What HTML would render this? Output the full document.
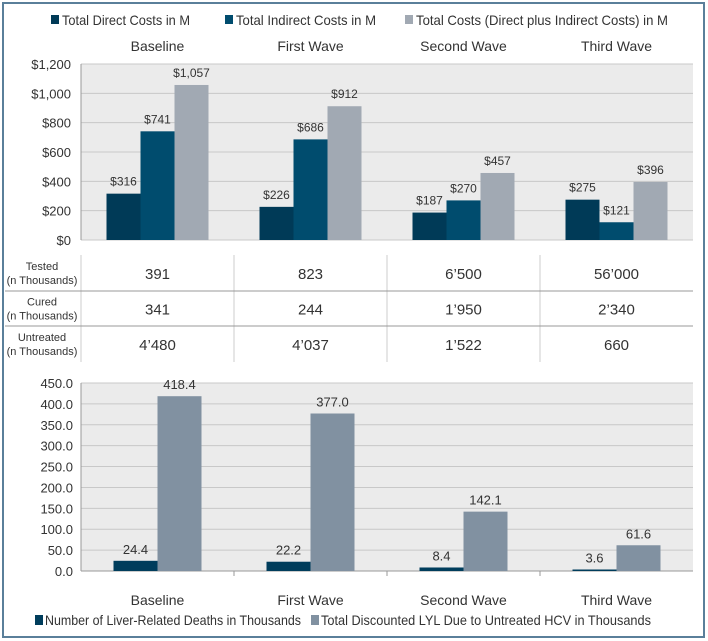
<!DOCTYPE html>
<html><head><meta charset="utf-8"><style>
body{margin:0;background:#fff;}
svg{display:block;font-family:"Liberation Sans",sans-serif;}
</style></head><body>
<svg id="c" width="708" height="641" xmlns="http://www.w3.org/2000/svg">
<rect x="3" y="3" width="701" height="634" fill="#fff" stroke="#5a7f9a" stroke-width="2"/>
</svg>
<script>
const categories=["Baseline","First Wave","Second Wave","Third Wave"];
const bottomCategories=["Baseline","First  Wave","Second Wave","Third Wave"];
const directCosts=[316,226,187,275];
const indirectCosts=[741,686,270,121];
const totalCosts=[1057,912,457,396];
const costTicks=[0,200,400,600,800,1000,1200];
const costTickLabels=["$0","$200","$400","$600","$800","$1,000","$1,200"];
const deaths=[24.4,22.2,8.4,3.6];
const lyl=[418.4,377.0,142.1,61.6];
const lylTicks=[0,50,100,150,200,250,300,350,400,450];
const rowLabels=[["Tested","(n Thousands)"],["Cured","(n Thousands)"],["Untreated","(n Thousands)"]];
const tableValues=[["391","823","6\u2019500","56\u2019000"],["341","244","1\u2019950","2\u2019340"],["4\u2019480","4\u2019037","1\u2019522","660"]];

const svg=document.getElementById('c');
const NS="http://www.w3.org/2000/svg";
function mk(t,a,txt){const e=document.createElementNS(NS,t);for(const k in a)e.setAttribute(k,a[k]);if(txt!==undefined)e.textContent=txt;svg.appendChild(e);return e;}
const L=81,R=693,cw=(R-L)/4;
function fmt(v){return "$"+v.toLocaleString("en-US");}

// top chart
const tTop=64,tBot=240,tMax=1200;
const ty=v=>tBot-(v/tMax)*(tBot-tTop);
let e=mk('rect',{x:L,y:tTop,width:R-L,height:tBot-tTop,fill:"#ebebeb"});

costTicks.forEach((v,i)=>{
  e=mk('line',{x1:L,x2:R,y1:ty(v),y2:ty(v),stroke:"#c8c8c8"});
  
  e=mk('text',{x:L-10,y:ty(v)+5,'text-anchor':'end','font-size':13,fill:'#333'},costTickLabels[i]);
  
});
e=mk('line',{x1:L,x2:L,y1:tTop,y2:tBot,stroke:"#999"});

const tseries=[[directCosts,"#003a57"],[indirectCosts,"#004c6e"],[totalCosts,"#a1a9b3"]];
const bw=34;
categories.forEach((c,i)=>{
  const cx=L+cw*i+cw/2;
  e=mk('text',{x:cx,y:51,'text-anchor':'middle','font-size':14,fill:'#333'},c);
  
  tseries.forEach((s,j)=>{
    const v=s[0][i],x=cx-bw*1.5+bw*j;
    e=mk('rect',{x:x,y:ty(v),width:bw,height:tBot-ty(v),fill:s[1]});
    
    e=mk('text',{x:x+bw/2,y:ty(v)-8,'text-anchor':'middle','font-size':12,fill:'#333'},fmt(v));
    
  });
});
// top legend
const tleg=[["Total Direct Costs in M","#003a57",51,128],["Total Indirect Costs in M","#004c6e",225,140],["Total Costs (Direct plus Indirect Costs) in M","#a1a9b3",405,252]];
tleg.forEach(l=>{
  e=mk('rect',{x:l[2],y:15,width:8,height:9,fill:l[1]});
  
  e=mk('text',{x:l[2]+11,y:25,'font-size':14,fill:'#333',textLength:l[3],lengthAdjust:'spacingAndGlyphs'},l[0]);
  
});

// table
const rowY=[255,291,326,362];
for(let k=1;k<4;k++){const x=L+cw*k;e=mk('line',{x1:x,x2:x,y1:rowY[0],y2:rowY[3],stroke:'#ccc'});}
e=mk('line',{x1:L,x2:L,y1:rowY[0],y2:rowY[3],stroke:'#ccc'});
[1,2].forEach(r=>{e=mk('line',{x1:5,x2:R,y1:rowY[r],y2:rowY[r],stroke:'#999'});});
rowLabels.forEach((rl,r)=>{
  const m=(rowY[r]+rowY[r+1])/2;
  e=mk('text',{x:42,y:m-3,'text-anchor':'middle','font-size':11,fill:'#333'},rl[0]);
  
  e=mk('text',{x:42,y:m+11,'text-anchor':'middle','font-size':11,fill:'#333'},rl[1]);
  
  tableValues[r].forEach((v,i)=>{
    e=mk('text',{x:L+cw*i+cw/2,y:m+6,'text-anchor':'middle','font-size':15,fill:'#333'},v);
    
  });
});

// bottom chart
const bTop=383,bBot=571,bMax=450;
const by=v=>bBot-(v/bMax)*(bBot-bTop);
e=mk('rect',{x:L,y:bTop,width:R-L,height:bBot-bTop,fill:"#ebebeb"});

lylTicks.forEach(v=>{
  e=mk('line',{x1:L,x2:R,y1:by(v),y2:by(v),stroke:"#c8c8c8"});
  
  e=mk('text',{x:L-8,y:by(v)+5,'text-anchor':'end','font-size':13,fill:'#333'},v.toFixed(1));
  
});
e=mk('line',{x1:L,x2:L,y1:bTop,y2:bBot,stroke:"#999"});
e=mk('line',{x1:L,x2:R,y1:bBot,y2:bBot,stroke:"#999"});
const bseries=[[deaths,"#003d5c"],[lyl,"#8191a1"]];
const bw2=44;
bottomCategories.forEach((c,i)=>{
  const cx=L+cw*i+cw/2;
  if(i>0){e=mk('line',{x1:L+cw*i,x2:L+cw*i,y1:bBot,y2:bBot+5,stroke:'#999'});}
  e=mk('text',{x:cx,y:605,'text-anchor':'middle','font-size':14,fill:'#333'},c);
  
  bseries.forEach((s,j)=>{
    const v=s[0][i],x=cx-bw2+bw2*j;
    e=mk('rect',{x:x,y:by(v),width:bw2,height:bBot-by(v),fill:s[1]});
    
    e=mk('text',{x:x+bw2/2,y:by(v)-7,'text-anchor':'middle','font-size':13,fill:'#333'},v.toFixed(1));
    
  });
});
const bleg=[["Number of Liver-Related Deaths in Thousands","#003d5c",35,256],["Total Discounted LYL Due to Untreated  HCV in Thousands","#8191a1",311,330]];
bleg.forEach(l=>{
  e=mk('rect',{x:l[2],y:615,width:8,height:10,fill:l[1]});
  
  e=mk('text',{x:l[2]+10,y:625,'font-size':14,fill:'#333',textLength:l[3],lengthAdjust:'spacingAndGlyphs'},l[0]);
  
});
</script>
</body></html>
